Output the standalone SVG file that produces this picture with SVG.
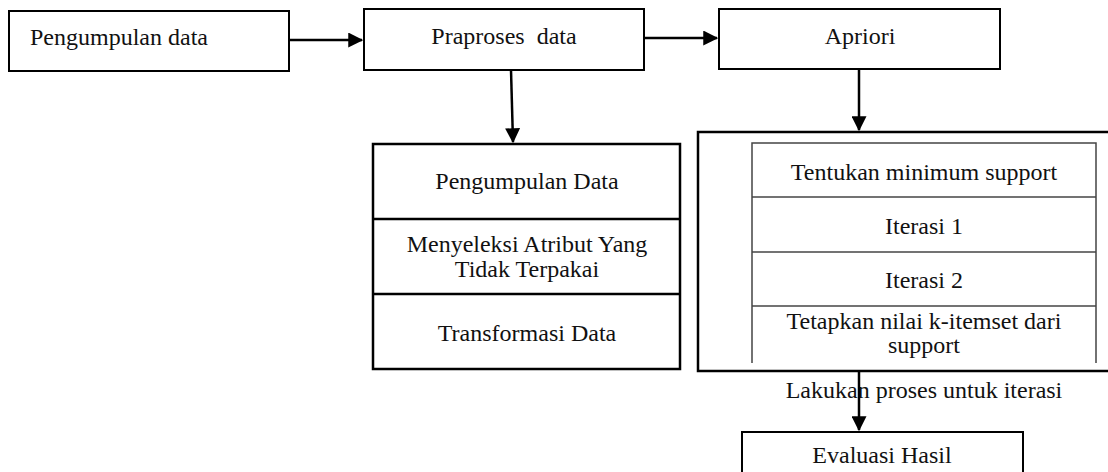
<svg xmlns="http://www.w3.org/2000/svg" width="1108" height="472" viewBox="0 0 1108 472">
<style>
.box{fill:#fff;stroke:#000;stroke-width:2}
.thick{fill:none;stroke:#000;stroke-width:2.5}
.thin{fill:none;stroke:#444;stroke-width:1.5}
.t{font-family:"Liberation Serif","Times New Roman",serif;font-size:24px;fill:#111}
.c{text-anchor:middle}
.conn{stroke:#000;stroke-width:2.5;fill:none}
</style>
<defs>
<marker id="ah" markerWidth="6" markerHeight="6" refX="5.5" refY="3" orient="auto" markerUnits="strokeWidth">
<path d="M0,0 L6,3 L0,6 Z" fill="#000"/>
</marker>
</defs>
<rect width="1108" height="472" fill="#fff"/>
<g id="pengumpulan">
<rect class="box" x="9" y="11" width="280" height="60"/>
<text class="t" x="30" y="45">Pengumpulan data</text>
</g>
<g id="praproses">
<rect class="box" x="364" y="9" width="280" height="61"/>
<text class="t c" x="504" y="44" xml:space="preserve">Praproses  data</text>
</g>
<g id="apriori">
<rect class="box" x="719" y="9" width="281" height="60"/>
<text class="t c" x="860" y="44">Apriori</text>
</g>
<g id="praproses-steps">
<rect class="thick" x="373" y="144" width="307" height="225"/>
<line class="thick" x1="373" y1="219" x2="680" y2="219"/>
<line class="thick" x1="373" y1="294" x2="680" y2="294"/>
<text class="t c" x="527" y="189">Pengumpulan Data</text>
<text class="t c" x="527" y="252">Menyeleksi Atribut Yang</text>
<text class="t c" x="527" y="277">Tidak Terpakai</text>
<text class="t c" x="527" y="341">Transformasi Data</text>
</g>
<g id="apriori-steps">
<path class="thick" d="M1112,132 L698,132 L698,371 L1112,371"/>
<path class="thin" d="M752,363 L752,143 L1096,143 L1096,363"/>
<line class="thin" x1="752" y1="197" x2="1096" y2="197"/>
<line class="thin" x1="752" y1="252" x2="1096" y2="252"/>
<line class="thin" x1="752" y1="306" x2="1096" y2="306"/>
<text class="t c" x="924" y="180">Tentukan minimum support</text>
<text class="t c" x="924" y="234">Iterasi 1</text>
<text class="t c" x="924" y="288">Iterasi 2</text>
<text class="t c" x="924" y="329">Tetapkan nilai k-itemset dari</text>
<text class="t c" x="924" y="353">support</text>
</g>
<g id="label-iterasi">
<text class="t c" x="924" y="398">Lakukan proses untuk iterasi</text>
</g>
<g id="evaluasi">
<rect class="box" x="742" y="432" width="281" height="60"/>
<text class="t c" x="882" y="463">Evaluasi Hasil</text>
</g>
<g id="connectors">
<line class="conn" x1="289" y1="40" x2="362" y2="40" marker-end="url(#ah)"/>
<line class="conn" x1="644" y1="38" x2="717" y2="38" marker-end="url(#ah)"/>
<line class="conn" x1="511" y1="70" x2="513" y2="142" marker-end="url(#ah)"/>
<line class="conn" x1="859" y1="69" x2="859" y2="130" marker-end="url(#ah)"/>
<line class="conn" x1="859" y1="371" x2="859" y2="430" marker-end="url(#ah)"/>
</g>
</svg>
